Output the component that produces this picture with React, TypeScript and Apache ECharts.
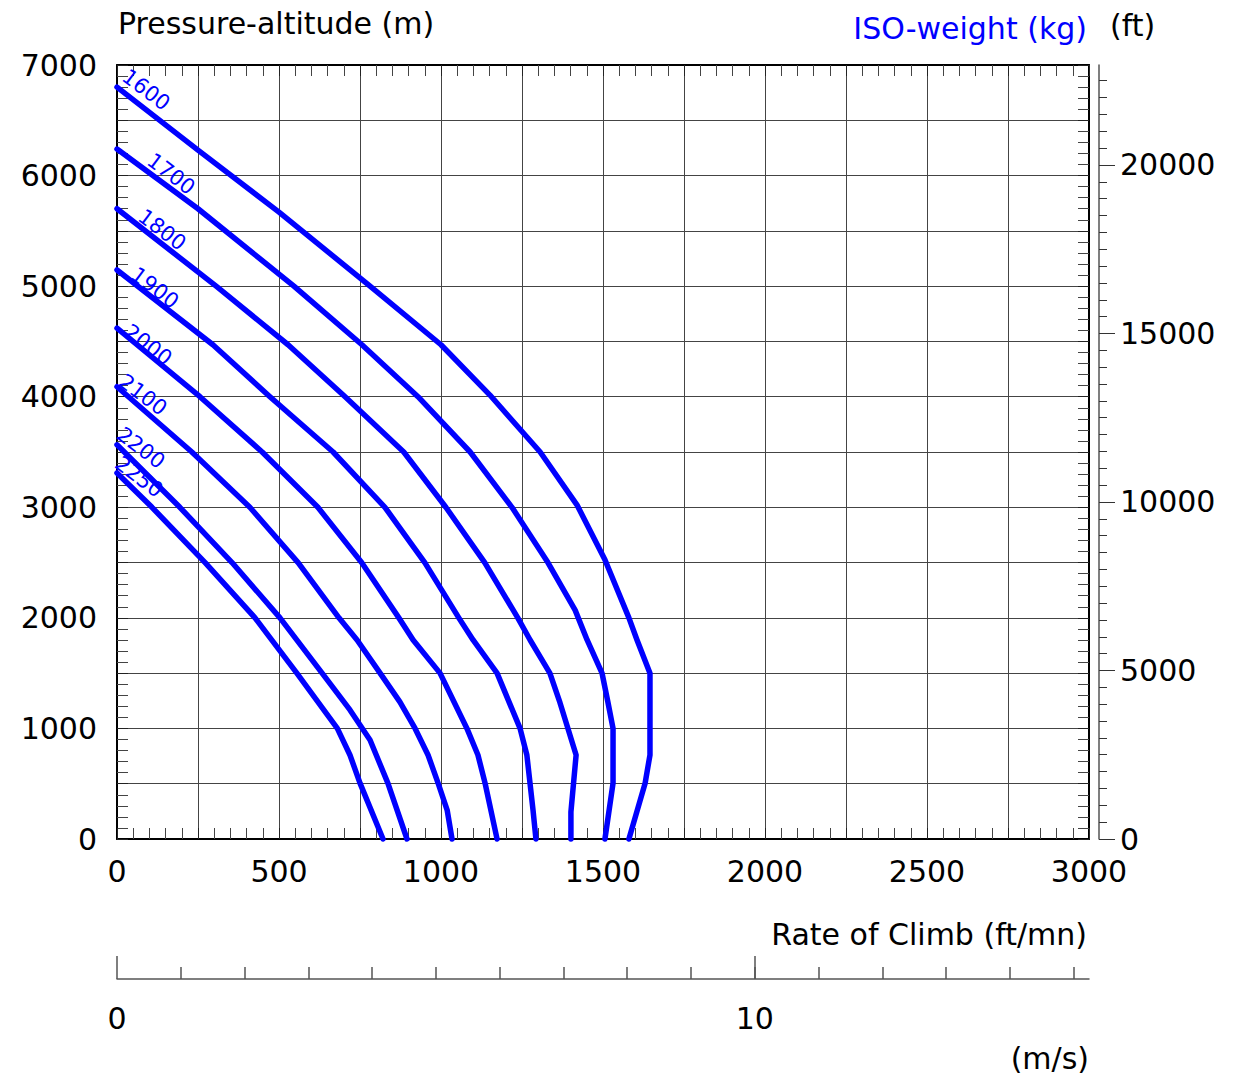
import React, { useEffect, useRef } from 'react';
import * as echarts from 'echarts';

// ISO-weight curves: [rate of climb (ft/mn), pressure altitude (m)]
const WEIGHTS = ['1600', '1700', '1800', '1900', '2000', '2100', '2200', '2250'];

const ISO_1600 = [[0, 6800], [250, 6230], [500, 5670], [781, 5000], [1000, 4470], [1151, 4015], [1306, 3500], [1420, 3020], [1506, 2525], [1580, 2000], [1605, 1800], [1645, 1500], [1645, 760], [1630, 505], [1580, 0]];
const ISO_1700 = [[0, 6240], [250, 5700], [546, 5000], [756, 4470], [929, 4000], [1090, 3500], [1219, 3000], [1330, 2500], [1414, 2070], [1451, 1800], [1497, 1500], [1515, 1240], [1531, 1000], [1531, 505], [1506, 0]];
const ISO_1800 = [[0, 5700], [306, 5000], [528, 4470], [704, 4000], [885, 3500], [1015, 3000], [1135, 2500], [1237, 2000], [1275, 1800], [1336, 1500], [1367, 1235], [1417, 760], [1401, 245], [1401, 0]];
const ISO_1900 = [[0, 5146], [296, 4470], [472, 4000], [667, 3500], [827, 3000], [950, 2500], [1055, 2000], [1099, 1800], [1173, 1500], [1244, 1000], [1265, 760], [1284, 262], [1293, 0]];
const ISO_2000 = [[0, 4620], [256, 4000], [448, 3500], [620, 3000], [755, 2500], [870, 2000], [914, 1800], [997, 1500], [1080, 1000], [1114, 760], [1136, 505], [1173, 0]];
const ISO_2100 = [[0, 4090], [231, 3500], [410, 3000], [559, 2500], [685, 2000], [741, 1800], [812, 1500], [873, 1240], [920, 1000], [960, 760], [991, 505], [1019, 262], [1034, 0]];
const ISO_2200 = [[0, 3565], [194, 3000], [355, 2500], [503, 2000], [633, 1500], [719, 1167], [781, 895], [836, 505], [895, 0]];
const ISO_2250 = [[0, 3310], [108, 3000], [272, 2500], [426, 2000], [555, 1500], [680, 1000], [719, 760], [750, 505], [821, 0]];

const CURVES = [ISO_1600, ISO_1700, ISO_1800, ISO_1900, ISO_2000, ISO_2100, ISO_2200, ISO_2250];

// where each weight label sits (data coordinates)
const LABEL_ANCHORS = [[90, 6774], [167, 6014], [139, 5508], [117, 4983], [96, 4468], [80, 4016], [74, 3536], [68, 3274]];

// axes
const ROC_MAX = 3000; // ft/mn
const ALT_MAX = 7000; // m
const FT_TICK_LABELS = [0, 5000, 10000, 15000, 20000];
const MS_TICK_LABELS = [0, 10];
const FT_MAX = ALT_MAX / 0.3048;
const MS_MAX = ROC_MAX * 0.00508;
const FT_MINOR_TICKS = Array.from({ length: 45 }, (_, i) => (i + 1) * 500); // 500 .. 22500 ft
const MS_MINOR_TICKS = Array.from({ length: 15 }, (_, i) => i + 1); // 1 .. 15 m/s

const FONT = 'DejaVu Sans';
const BLUE = '#0000ff';
const BIG = 30;

function buildOption(): any {
  const labelStyle = { fontFamily: FONT, fontSize: BIG, color: '#000' };
  const frameLine = { show: true, onZero: false, lineStyle: { color: '#000', width: 2 } };
  const innerTick = { show: true, inside: true, length: 11, lineStyle: { color: '#222', width: 1 } };
  const innerMinor = { show: true, splitNumber: 5, length: 11, lineStyle: { color: '#444', width: 1 } };
  const gridLine = { show: true, lineStyle: { color: '#444', width: 1 } };
  const rect = { left: 117, right: 154, top: 65, bottom: 236 };
  const hidden = { show: false };

  return {
    animation: false,
    backgroundColor: '#fff',
    grid: [rect, rect, rect],
    xAxis: [
      {
        gridIndex: 0, type: 'value', min: 0, max: ROC_MAX, interval: 250, position: 'bottom',
        axisLine: frameLine, axisTick: innerTick, minorTick: innerMinor, splitLine: gridLine,
        axisLabel: { ...labelStyle, margin: 17, formatter: (v: number) => (v % 500 === 0 ? String(v) : '') },
      },
      {
        gridIndex: 0, type: 'value', min: 0, max: ROC_MAX, interval: 250, position: 'top',
        axisLine: frameLine, axisTick: innerTick, minorTick: innerMinor, splitLine: hidden,
        axisLabel: hidden,
      },
      {
        gridIndex: 1, type: 'value', min: 0, max: MS_MAX, interval: 1, position: 'bottom', offset: 140,
        axisLine: { show: true, onZero: false, lineStyle: { color: '#555', width: 1.5 } },
        axisTick: { show: true, inside: true, length: 12, customValues: MS_MINOR_TICKS, lineStyle: { color: '#555', width: 1.5 } },
        splitLine: hidden, axisLabel: hidden,
      },
      {
        gridIndex: 2, type: 'value', min: 0, max: MS_MAX, interval: 10, position: 'bottom', offset: 140,
        axisLine: { show: false, onZero: false },
        axisTick: { show: true, inside: true, length: 23, customValues: MS_TICK_LABELS, lineStyle: { color: '#555', width: 1.5 } },
        splitLine: hidden,
        axisLabel: { ...labelStyle, margin: 24, customValues: MS_TICK_LABELS, formatter: (v: number) => String(v) },
      },
    ],
    yAxis: [
      {
        gridIndex: 0, type: 'value', min: 0, max: ALT_MAX, interval: 500, position: 'left',
        axisLine: frameLine, axisTick: innerTick, minorTick: innerMinor, splitLine: gridLine,
        axisLabel: { ...labelStyle, margin: 20, formatter: (v: number) => (v % 1000 === 0 ? String(v) : '') },
      },
      {
        gridIndex: 0, type: 'value', min: 0, max: ALT_MAX, interval: 500, position: 'right',
        axisLine: frameLine, axisTick: innerTick, minorTick: innerMinor, splitLine: hidden,
        axisLabel: hidden,
      },
      {
        gridIndex: 1, type: 'value', min: 0, max: FT_MAX, interval: 500, position: 'right', offset: 10,
        axisLine: { show: true, onZero: false, lineStyle: { color: '#555', width: 1.5 } },
        axisTick: { show: true, inside: false, length: 8, customValues: FT_MINOR_TICKS, lineStyle: { color: '#333', width: 1 } },
        splitLine: hidden, axisLabel: hidden,
      },
      {
        gridIndex: 2, type: 'value', min: 0, max: FT_MAX, interval: 5000, position: 'right', offset: 10,
        axisLine: { show: false, onZero: false },
        axisTick: { show: true, inside: false, length: 16, customValues: FT_TICK_LABELS, lineStyle: { color: '#333', width: 1 } },
        splitLine: hidden,
        axisLabel: { ...labelStyle, margin: 21, customValues: FT_TICK_LABELS, formatter: (v: number) => String(v) },
      },
    ],
    series: [
      {
        type: 'scatter', xAxisIndex: 0, yAxisIndex: 0, z: 2, silent: true,
        symbol: 'circle', symbolSize: 2, itemStyle: { color: 'rgba(0,0,0,0)' },
        data: WEIGHTS.map((w, i) => ({ name: w, value: LABEL_ANCHORS[i] })),
        label: {
          show: true, position: 'inside', formatter: '{b}', rotate: -37,
          fontFamily: FONT, fontSize: 21, color: BLUE, opacity: 1,
        },
      },
      ...CURVES.map((c, i) => ({
        type: 'line', name: WEIGHTS[i], xAxisIndex: 0, yAxisIndex: 0, z: 3,
        data: c, symbol: 'none', showSymbol: false, smooth: false, clip: false, silent: true,
        lineStyle: { color: BLUE, width: 5.5, cap: 'round', join: 'round' },
      })),
    ],
    graphic: [
      { type: 'text', x: 118, y: 23, style: { text: 'Pressure-altitude (m)', fontFamily: FONT, fontSize: BIG, fill: '#000', align: 'left', verticalAlign: 'middle' } },
      { type: 'text', x: 1087, y: 28, style: { text: 'ISO-weight (kg)', fontFamily: FONT, fontSize: BIG, fill: BLUE, align: 'right', verticalAlign: 'middle' } },
      { type: 'text', x: 1110, y: 25, style: { text: '(ft)', fontFamily: FONT, fontSize: BIG, fill: '#000', align: 'left', verticalAlign: 'middle' } },
      { type: 'text', x: 1087, y: 934, style: { text: 'Rate of Climb (ft/mn)', fontFamily: FONT, fontSize: BIG, fill: '#000', align: 'right', verticalAlign: 'middle' } },
      { type: 'text', x: 1089, y: 1058, style: { text: '(m/s)', fontFamily: FONT, fontSize: BIG, fill: '#000', align: 'right', verticalAlign: 'middle' } },
    ],
  };
}

export default function App() {
  const ref = useRef<HTMLDivElement>(null);
  useEffect(() => {
    document.body.style.margin = '0';
    document.body.style.overflow = 'hidden';
    const chart = echarts.init(ref.current as HTMLDivElement, undefined, { renderer: 'svg' });
    chart.setOption(buildOption());
    return () => chart.dispose();
  }, []);
  return <div ref={ref} style={{ width: 1243, height: 1075 }} />;
}
